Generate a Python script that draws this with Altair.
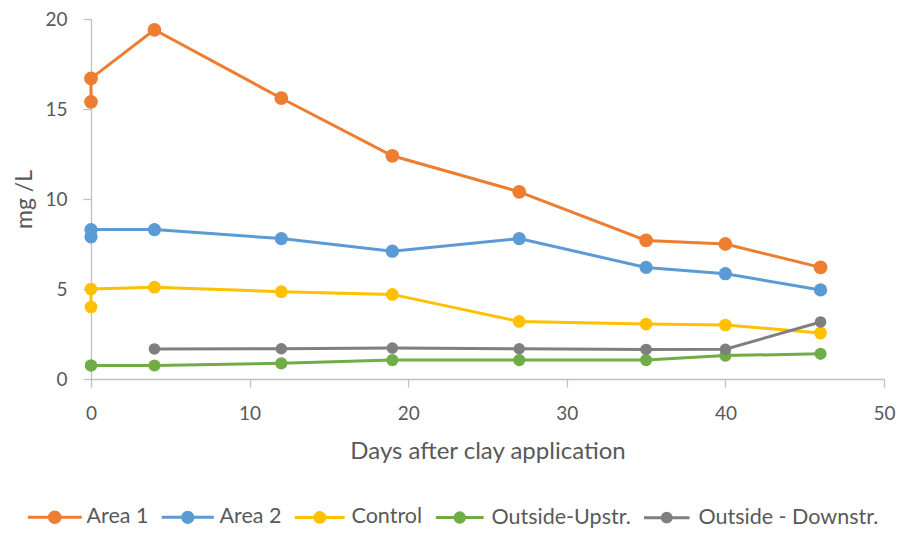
import math
import altair as alt
import pandas as pd

# ---- data ----
days = [0, 0, 4, 12, 19, 27, 35, 40, 46]
series_names = ["Area 1", "Area 2", "Control", "Outside-Upstr.", "Outside - Downstr."]
area1 = [15.4, 16.7, 19.4, 15.6, 12.4, 10.4, 7.7, 7.5, 6.2]
area2 = [7.9, 8.3, 8.3, 7.8, 7.1, 7.8, 6.2, 5.85, 4.95]
control = [4.0, 5.0, 5.1, 4.85, 4.7, 3.2, 3.05, 3.0, 2.55]
upstr = [0.75, 0.75, 0.75, 0.87, 1.05, 1.05, 1.05, 1.3, 1.4]
downstr = [None, None, 1.67, 1.68, 1.72, 1.68, 1.64, 1.65, 3.17]
colors = ["#ED7D31", "#5B9BD5", "#FFC000", "#70AD47", "#7F7F7F"]
marker_sizes = [190, 135, 135, 135, 135]
x_ticks = [0, 10, 20, 30, 40, 50]
y_ticks = [0, 5, 10, 15, 20]

rows = []
for name, vals in zip(series_names, [area1, area2, control, upstr, downstr]):
    for i, (d, v) in enumerate(zip(days, vals)):
        if v is not None:
            rows.append({"series": name, "day": d, "value": v, "idx": i})
df = pd.DataFrame(rows)

FONT = "Lato"
TXT = "#595959"
AX = "#BFBFBF"


def ring(r):
    return f"M{r:.3f},0A{r:.3f},{r:.3f},0,1,1,{-r:.3f},0A{r:.3f},{r:.3f},0,1,1,{r:.3f},0Z"


# legend glyph (line with solid circle); the legend symbol size follows the
# largest marker size, so express the glyph in those units
unit = math.sqrt(max(marker_sizes)) / 2.0
half_len = 27.0 / unit
legend_path = f"M{-half_len:.3f},0L{half_len:.3f},0" + "".join(
    ring(px / unit) for px in [1.0, 2.5, 4.0, 5.3]
)

x_enc = alt.X(
    "day:Q",
    scale=alt.Scale(domain=[0, 50], nice=False),
    axis=alt.Axis(
        values=x_ticks, title="Days after clay application", grid=False,
        domainColor=AX, tickColor=AX, tickSize=8, domainWidth=1.3, tickWidth=1.3,
        labelFont=FONT, labelFontSize=19, labelColor=TXT,
        labelBaseline="alphabetic", labelPadding=32, labelFlush=False,
        titleFont=FONT, titleFontSize=24, titleColor=TXT, titleFontWeight="normal",
        titleBaseline="alphabetic", titleY=79,
    ),
)
y_enc = alt.Y(
    "value:Q",
    scale=alt.Scale(domain=[0, 20], nice=False),
    axis=alt.Axis(
        values=y_ticks, title="mg /L", grid=False,
        domainColor=AX, tickColor=AX, tickSize=8, domainWidth=1.3, tickWidth=1.3,
        labelFont=FONT, labelFontSize=19, labelColor=TXT, labelPadding=16,
        titleFont=FONT, titleFontSize=23, titleColor=TXT, titleFontWeight="normal",
        titleX=-60, titleBaseline="alphabetic",
    ),
)
color_scale = alt.Scale(domain=series_names, range=colors)

lines = alt.Chart(df).mark_line(strokeWidth=3).encode(
    x=x_enc,
    y=y_enc,
    color=alt.Color(
        "series:N",
        scale=color_scale,
        legend=alt.Legend(
            title=None, orient="none", legendX=-47, legendY=487,
            direction="horizontal", symbolType=legend_path,
            symbolStrokeWidth=3, labelFont=FONT, labelFontSize=21.5,
            labelColor=TXT, labelOffset=21, columnPadding=6, labelLimit=400,
        ),
    ),
    order="idx:Q",
)
points = alt.Chart(df).mark_point(filled=True, opacity=1).encode(
    x=x_enc,
    y=y_enc,
    color=alt.Color("series:N", scale=color_scale, legend=None),
    size=alt.Size("series:N", scale=alt.Scale(domain=series_names, range=marker_sizes), legend=None),
)

chart = (
    alt.layer(lines, points)
    .properties(
        width=793, height=360,
        autosize="none",
        padding={"left": 83, "top": 11, "right": 12, "bottom": 149},
        background="white",
    )
    .configure_view(stroke=None)
)

chart.save("out.html", embed_options={"renderer": "svg", "actions": False})
